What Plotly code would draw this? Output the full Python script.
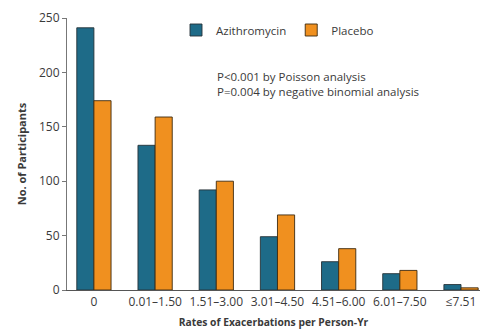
import plotly.graph_objects as go

categories = ["0", "0.01–1.50", "1.51–3.00", "3.01–4.50", "4.51–6.00", "6.01–7.50", "≤7.51"]
azithromycin = [241, 133, 92, 49, 26, 15, 5]
placebo = [174, 159, 100, 69, 38, 18, 2]
y_ticks = [0, 50, 100, 150, 200, 250]
notes = ["P<0.001 by Poisson analysis", "P=0.004 by negative binomial analysis"]

FONT = "Open Sans"
TXT = "#3a3a3a"

# plot-area pixel geometry
L, R, T, B = 67, 480, 18, 290
W, H = 482, 329

fig = go.Figure()
fig.add_trace(go.Bar(x=categories, y=azithromycin, name="Azithromycin",
                     marker=dict(color="#1e6b88", line=dict(color="#263238", width=0.9))))
fig.add_trace(go.Bar(x=categories, y=placebo, name="Placebo",
                     marker=dict(color="#f0901f", line=dict(color="#3d2a10", width=0.9))))

fig.update_layout(
    width=W, height=H,
    margin=dict(l=L, r=W - R, t=T, b=H - B, autoexpand=False),
    paper_bgcolor="white", plot_bgcolor="white",
    barmode="group", bargap=0.44, bargroupgap=0,
    font=dict(family=FONT, size=12, color=TXT),
    showlegend=True,
    legend=dict(orientation="h", x=(176 - L) / (R - L), y=(B - 30) / (B - T),
                xanchor="left", yanchor="middle",
                font=dict(family=FONT, size=11.5, color=TXT), itemwidth=30,
                bgcolor="rgba(0,0,0,0)", traceorder="normal"),
    xaxis=dict(range=[-0.44, 6.31], showline=True, linecolor="#555555", linewidth=1.2,
               ticks="", showgrid=False, zeroline=False, automargin=False,
               tickfont=dict(family=FONT, size=12, color=TXT),
               title=dict(text="<b>Rates of Exacerbations per Person-Yr</b>",
                          font=dict(family=FONT, size=10.3, color=TXT), standoff=11)),
    yaxis=dict(range=[0, 250], tickvals=y_ticks, showline=True, linecolor="#777777", linewidth=1,
               ticks="outside", ticklen=4, tickcolor="#777777", showgrid=False, zeroline=False,
               automargin=False,
               tickfont=dict(family=FONT, size=12, color=TXT),
               title=dict(text="<b>No. of Participants</b>",
                          font=dict(family=FONT, size=11, color=TXT), standoff=10)),
)

fig.add_annotation(x=(215 - L) / (R - L), y=(B - 84) / (B - T),
                   xref="paper", yref="paper", showarrow=False, text="<br>".join(notes),
                   align="left", xanchor="left", yanchor="middle",
                   font=dict(family=FONT, size=11.5, color=TXT))

fig.write_html("out.html", config={"displayModeBar": False},
               post_script="document.body.style.margin='0px';")
